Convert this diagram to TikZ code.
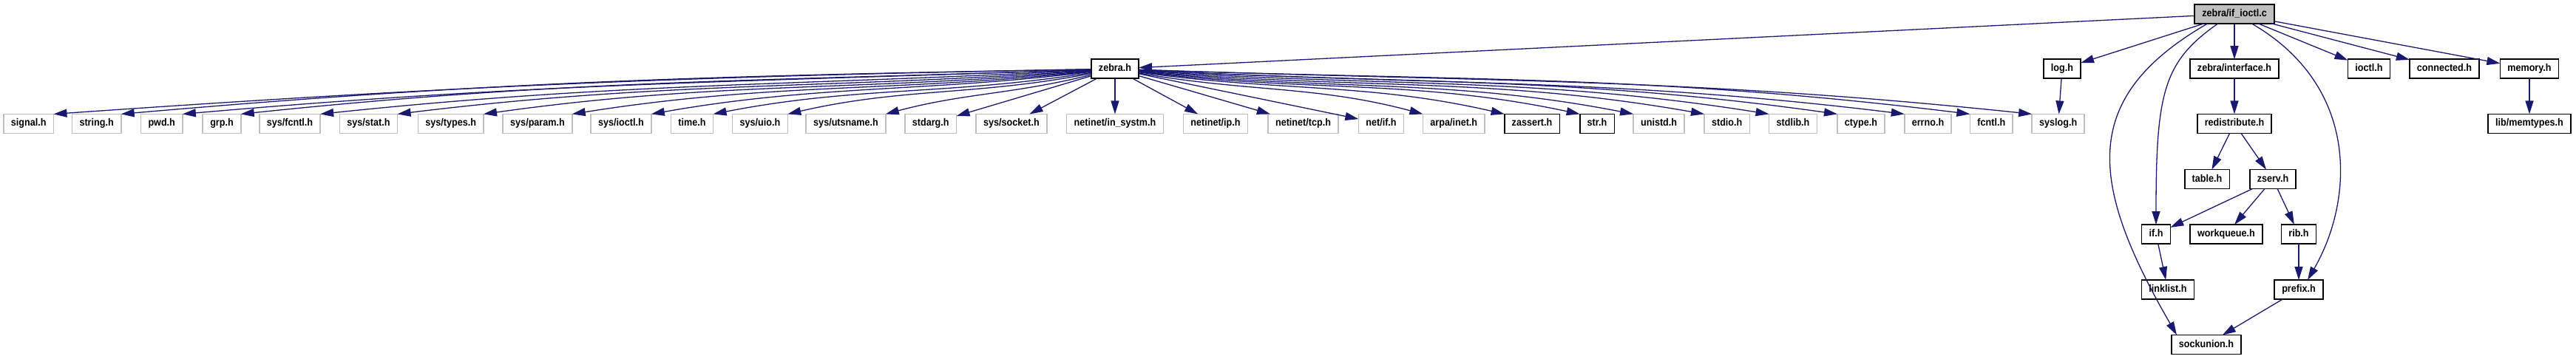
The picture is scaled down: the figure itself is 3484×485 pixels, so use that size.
\documentclass[tikz,border=0pt]{standalone}
\usepackage{fontspec}
\setmainfont{Liberation Sans}
\newfontfamily\nodefont[FakeStretch=0.9]{Liberation Sans}
\usetikzlibrary{arrows.meta}
\definecolor{edgeblue}{RGB}{25,25,112}

\begin{document}
\begin{tikzpicture}[x=0.2pt, y=0.2pt,
  every node/.style={font=\nodefont\bfseries\fontsize{2.8}{3.3}\selectfont, draw, line width=0.32pt,
    inner xsep=2pt, inner ysep=0pt, minimum height=5.2pt, outer sep=0pt,
    text height=2pt, text depth=0.59pt},
  sysh/.style={draw=gray!50},
  doch/.style={draw=black},
  rooth/.style={draw=black, fill=gray!50},
  dep/.style={edgeblue, line width=0.26pt, -{Triangle[length=3.6pt, width=2.2pt]}}]
\useasboundingbox (0,0) rectangle (3484,-485);
% file and first level
\node[rooth] (ifioctl) at (3022,-18.7) {zebra/if\_ioctl.c};
\node[doch] (zebra) at (1508,-93.2) {zebra.h};
\node[doch] (log) at (2789,-93.2) {log.h};
\node[doch] (iface) at (3022,-93.2) {zebra/interface.h};
\node[doch] (ioctl) at (3204,-93.2) {ioctl.h};
\node[doch] (connected) at (3306,-93.2) {connected.h};
\node[doch] (memory) at (3421,-93.2) {memory.h};
% headers pulled in by zebra.h
\node[sysh] (signal) at (38.7,-167.4) {signal.h};
\node[sysh] (string) at (130.6,-167.4) {string.h};
\node[sysh] (pwd) at (218.7,-167.4) {pwd.h};
\node[sysh] (grp) at (300,-167.4) {grp.h};
\node[sysh] (sysfcntl) at (392,-167.4) {sys/fcntl.h};
\node[sysh] (sysstat) at (498.5,-167.4) {sys/stat.h};
\node[sysh] (systypes) at (609.7,-167.4) {sys/types.h};
\node[sysh] (sysparam) at (727,-167.4) {sys/param.h};
\node[sysh] (sysioctl) at (840,-167.4) {sys/ioctl.h};
\node[sysh] (time) at (936,-167.4) {time.h};
\node[sysh] (sysuio) at (1028,-167.4) {sys/uio.h};
\node[sysh] (sysutsname) at (1144,-167.4) {sys/utsname.h};
\node[sysh] (stdarg) at (1258.7,-167.4) {stdarg.h};
\node[sysh] (syssocket) at (1368,-167.4) {sys/socket.h};
\node[sysh] (insystm) at (1508,-167.4) {netinet/in\_systm.h};
\node[sysh] (netip) at (1644,-167.4) {netinet/ip.h};
\node[sysh] (nettcp) at (1762.5,-167.4) {netinet/tcp.h};
\node[sysh] (netif) at (1868,-167.4) {net/if.h};
\node[sysh] (arpainet) at (1966.3,-167.4) {arpa/inet.h};
\node[doch] (zassert) at (2072,-167.4) {zassert.h};
\node[doch] (str) at (2160,-167.4) {str.h};
\node[sysh] (unistd) at (2243.6,-167.4) {unistd.h};
\node[sysh] (stdio) at (2335.7,-167.4) {stdio.h};
\node[sysh] (stdlib) at (2425,-167.4) {stdlib.h};
\node[sysh] (ctype) at (2517,-167.4) {ctype.h};
\node[sysh] (errno) at (2607.5,-167.4) {errno.h};
\node[sysh] (fcntl) at (2693.3,-167.4) {fcntl.h};
\node[sysh] (syslog) at (2783.7,-167.4) {syslog.h};
% lower levels
\node[doch] (redist) at (3022,-167.4) {redistribute.h};
\node[doch] (memtypes) at (3421,-167.4) {lib/memtypes.h};
\node[doch] (table) at (2985,-242.5) {table.h};
\node[doch] (zserv) at (3074,-242.5) {zserv.h};
\node[doch] (ifh) at (2916,-317) {if.h};
\node[doch] (workqueue) at (3011,-317) {workqueue.h};
\node[doch] (rib) at (3109,-317) {rib.h};
\node[doch] (linklist) at (2932,-392) {linklist.h};
\node[doch] (prefix) at (3109,-392) {prefix.h};
\node[doch] (sockunion) at (2984,-466.5) {sockunion.h};
% edges from zebra/if_ioctl.c
\draw[dep] (ifioctl) -- (zebra);
\draw[dep] (ifioctl) -- (log);
\draw[dep] (ifioctl) -- (iface);
\draw[dep] (ifioctl) -- (ioctl);
\draw[dep] (ifioctl) -- (connected);
\draw[dep] (ifioctl) -- (memory);
\draw[dep] ([xshift=-7.2pt]ifioctl.south) to[out=210, in=120, out distance=40pt, in distance=48pt] ([xshift=-8pt]sockunion.north);
\draw[dep] ([xshift=-4.4pt]ifioctl.south) to[out=215, in=90, out distance=18pt, in distance=36pt] (ifh.north);
\draw[dep] ([xshift=4.6pt]ifioctl.south) to[out=-30, in=60, out distance=34pt, in distance=25pt] ([xshift=2.4pt]prefix.north);
% edges from zebra.h, left side
\draw[dep] (zebra) to[out=181, in=4, distance=109pt] (signal.north east);
\draw[dep] (zebra) to[out=181, in=5, distance=102pt] (string.north east);
\draw[dep] (zebra) to[out=182, in=5, distance=96pt] (pwd.north east);
\draw[dep] (zebra) to[out=182, in=6, distance=89pt] (grp.north east);
\draw[dep] (zebra) to[out=183, in=6, distance=81pt] (sysfcntl.north east);
\draw[dep] (zebra) to[out=184, in=7, distance=73pt] (sysstat.north east);
\draw[dep] (zebra) to[out=185, in=8, distance=64pt] (systypes.north east);
\draw[dep] (zebra) to[out=186, in=9, distance=55pt] (sysparam.north east);
\draw[dep] (zebra) to[out=187, in=10, distance=46pt] (sysioctl.north east);
\draw[dep] (zebra) to[out=189, in=11, distance=40pt] (time.north east);
\draw[dep] (zebra) to[out=191, in=13, distance=32pt] (sysuio.north east);
\draw[dep] (zebra) to[out=194, in=15, distance=22pt] (sysutsname.north east);
\draw[dep] (zebra) -- (stdarg);
\draw[dep] (zebra) -- (syssocket);
\draw[dep] (zebra) -- (insystm);
% edges from zebra.h, right side
\draw[dep] (zebra) -- (netip);
\draw[dep] (zebra) -- (nettcp);
\draw[dep] (zebra) -- (netif);
\draw[dep] (zebra) to[out=-10, in=165, distance=30pt] (arpainet.north west);
\draw[dep] (zebra) to[out=-8, in=167, distance=38pt] (zassert.north west);
\draw[dep] (zebra) to[out=-7, in=168, distance=46pt] (str.north west);
\draw[dep] (zebra) to[out=-6, in=169, distance=52pt] (unistd.north west);
\draw[dep] (zebra) to[out=-5, in=170, distance=59pt] (stdio.north west);
\draw[dep] (zebra) to[out=-4, in=171, distance=66pt] (stdlib.north west);
\draw[dep] (zebra) to[out=-3, in=172, distance=73pt] (ctype.north west);
\draw[dep] (zebra) to[out=-3, in=173, distance=81pt] (errno.north west);
\draw[dep] (zebra) to[out=-2, in=173, distance=88pt] (fcntl.north west);
\draw[dep] (zebra) to[out=-2, in=174, distance=94pt] (syslog.north west);
% the rest
\draw[dep] (log) -- (syslog);
\draw[dep] (iface) -- (redist);
\draw[dep] (redist) -- (table);
\draw[dep] (redist) -- (zserv);
\draw[dep] (zserv) -- (ifh);
\draw[dep] (zserv) -- (workqueue);
\draw[dep] (zserv) -- (rib);
\draw[dep] (ifh) -- (linklist);
\draw[dep] (rib) -- (prefix);
\draw[dep] (prefix) -- (sockunion);
\draw[dep] (memory) -- (memtypes);
\end{tikzpicture}
\end{document}
